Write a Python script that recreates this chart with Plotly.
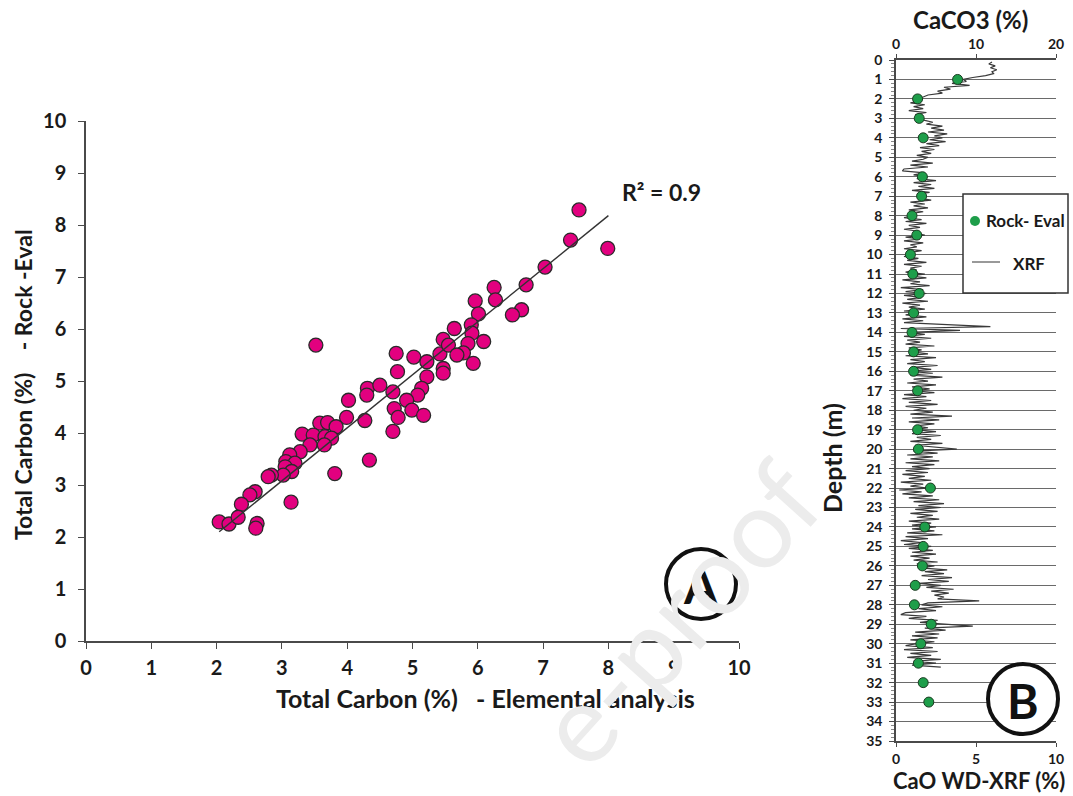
import plotly.graph_objects as go

W, H = 1073, 796

# ---------------- Panel A data : Total carbon, elemental analysis vs Rock-Eval ----------------
tc_elemental = [3.52, 4.75, 5.02, 5.22, 5.42, 4.77, 5.22, 4.31, 4.50, 4.30, 4.70, 5.14, 5.08, 4.91,
                4.02, 4.72, 4.99, 4.78, 5.17, 3.99, 4.27, 4.70, 3.58, 3.70, 3.83, 3.31, 3.48, 3.66,
                3.76, 3.43, 3.65, 3.28, 3.12, 3.06, 3.20, 3.05, 3.15, 3.02, 2.84, 2.79, 4.34, 3.81,
                2.59, 2.51, 2.38, 3.14, 2.62, 2.60, 2.04, 2.19, 2.33,
                7.55, 7.99, 7.42, 7.03, 6.74, 6.25, 6.27, 5.96, 6.01, 6.67, 6.53, 5.64, 5.90, 5.91,
                6.09, 5.85, 5.47, 5.55, 5.78, 5.68, 5.93, 5.47, 5.47]
tc_rockeval = [5.69, 5.53, 5.46, 5.37, 5.52, 5.18, 5.08, 4.86, 4.92, 4.73, 4.79, 4.86, 4.73, 4.63,
               4.63, 4.47, 4.44, 4.30, 4.34, 4.30, 4.24, 4.03, 4.19, 4.20, 4.12, 3.98, 3.96, 3.93,
               3.90, 3.77, 3.77, 3.64, 3.58, 3.45, 3.42, 3.35, 3.26, 3.19, 3.19, 3.16, 3.48, 3.22,
               2.87, 2.81, 2.63, 2.67, 2.26, 2.17, 2.29, 2.25, 2.38,
               8.29, 7.55, 7.71, 7.19, 6.85, 6.80, 6.56, 6.54, 6.29, 6.37, 6.27, 6.01, 6.08, 5.92,
               5.76, 5.72, 5.80, 5.69, 5.54, 5.50, 5.34, 5.24, 5.15]
# trend line
trend_slope = 1.02
trend_intercept = 0.02
trend_x_range = [2.04, 8.0]
r2_label = "R² = 0.9"
a_ticks = list(range(0, 11))

# ---------------- Panel B data : depth profile ----------------
re_depth = [1, 2, 3, 4, 6, 7, 8, 9, 10, 11, 12, 13, 14, 15, 16, 17, 19, 20, 22, 24, 25, 26,
            27, 28, 29, 30, 31, 32, 33]
re_caco3 = [7.7, 2.7, 2.9, 3.4, 3.3, 3.2, 2.0, 2.6, 1.8, 2.1, 2.9, 2.2, 2.0, 2.2, 2.2, 2.7,
            2.7, 2.8, 4.3, 3.6, 3.4, 3.3, 2.4, 2.3, 4.4, 3.1, 2.8, 3.4, 4.1]

# XRF CaO (%) every 0.1 m starting at 0.1 m (one row per metre)
xrf_cao_rows = [
    [6.0, 5.8, 6.2, 5.9, 6.3, 6.0, 6.1, 5.6, 4.8, 4.2],
    [4.4, 3.5, 4.6, 3.0, 3.4, 2.6, 2.9, 2.0, 1.7, 1.3],
    [1.6, 0.9, 1.8, 1.1, 1.7, 0.8, 1.9, 1.2, 1.5, 1.4],
    [1.8, 2.3, 1.9, 2.9, 2.2, 3.0, 2.0, 3.2, 2.4, 2.9],
    [2.1, 3.1, 1.9, 2.7, 1.5, 2.4, 1.6, 2.2, 1.3, 2.0],
    [1.7, 1.0, 2.3, 0.9, 2.0, 0.5, 0.4, 1.8, 1.1, 2.0],
    [1.3, 2.5, 1.1, 2.2, 1.4, 2.4, 1.0, 2.1, 1.3, 1.9],
    [1.4, 2.2, 0.9, 1.8, 1.1, 2.0, 0.8, 1.7, 0.9, 1.3],
    [0.5, 1.6, 0.6, 1.9, 0.8, 1.5, 0.5, 1.4, 1.1, 1.8],
    [0.6, 1.5, 0.5, 1.7, 0.9, 1.3, 0.5, 1.6, 0.8, 1.2],
    [0.5, 1.4, 0.7, 1.9, 0.5, 1.6, 0.9, 1.3, 0.6, 1.8],
    [0.8, 1.9, 0.4, 1.5, 0.9, 2.1, 0.3, 1.7, 0.6, 1.9],
    [0.5, 1.6, 0.7, 2.0, 0.4, 1.5, 0.8, 1.8, 0.5, 1.4],
    [0.6, 1.9, 0.4, 1.7, 0.5, 2.8, 5.9, 0.3, 4.0, 0.8],
    [1.8, 0.5, 2.2, 0.7, 1.5, 0.6, 2.4, 0.8, 1.6, 1.0],
    [2.0, 0.6, 2.5, 0.9, 1.8, 0.7, 2.6, 1.0, 2.2, 0.8],
    [2.3, 0.9, 2.9, 1.1, 2.0, 0.7, 2.5, 1.0, 2.1, 1.2],
    [2.4, 0.5, 1.9, 0.4, 2.2, 0.8, 2.6, 0.6, 1.9, 1.1],
    [2.3, 0.9, 3.5, 1.0, 2.7, 0.8, 2.4, 1.2, 2.0, 1.1],
    [2.5, 1.0, 2.8, 1.3, 2.2, 0.9, 2.9, 1.2, 2.4, 3.8],
    [1.1, 2.6, 0.7, 2.3, 0.9, 2.7, 0.6, 2.4, 1.0, 2.1],
    [0.6, 2.0, 0.4, 1.8, 0.8, 2.2, 0.3, 1.7, 0.9, 2.0],
    [0.2, 1.6, 0.4, 2.3, 0.8, 2.7, 1.1, 3.0, 1.4, 2.8],
    [1.2, 2.6, 0.9, 2.3, 1.3, 2.7, 0.8, 2.2, 1.0, 2.5],
    [1.0, 2.4, 0.7, 2.9, 0.6, 2.0, 0.3, 1.6, 0.5, 2.2],
    [0.8, 2.3, 1.0, 2.5, 0.9, 2.1, 1.1, 2.6, 1.3, 2.4],
    [1.5, 3.2, 1.8, 3.0, 1.6, 3.5, 2.0, 3.3, 1.4, 2.8],
    [1.9, 3.6, 2.2, 3.3, 2.4, 3.0, 2.6, 5.2, 2.0, 1.6],
    [2.9, 1.4, 2.5, 0.6, 0.3, 1.9, 0.8, 2.6, 1.5, 3.0],
    [4.8, 1.8, 3.1, 1.2, 2.7, 1.0, 2.6, 0.9, 2.4, 1.3],
    [0.6, 2.3, 0.5, 2.6, 0.9, 2.2, 0.7, 2.8, 1.1, 2.5],
    [1.0, 2.8],
]
xrf_step_m = 0.1
xrf_cao = [v for row in xrf_cao_rows for v in row]
xrf_depth = [round(xrf_step_m * (i + 1), 2) for i in range(len(xrf_cao))]

# ---------------- helpers ----------------
def px(x):
    return x / W

def py(y):
    return 1 - y / H

FONT = "Lato"
TXT = "#1a1a1a"
AX = "#4a4a4a"

def bold(size, color=TXT):
    return dict(family=FONT, size=size, color=color, weight="bold")

fig = go.Figure()

# Panel A scatter
fig.add_trace(go.Scatter(
    x=tc_elemental, y=tc_rockeval, mode="markers", xaxis="x", yaxis="y",
    marker=dict(size=14, color="#e2007f", line=dict(color="#2a2a2a", width=1.3)),
    showlegend=False, hoverinfo="skip"))

# linear trend line
fig.add_trace(go.Scatter(
    x=trend_x_range, y=[trend_slope * v + trend_intercept for v in trend_x_range],
    mode="lines", xaxis="x", yaxis="y",
    line=dict(color="#333333", width=1.4), showlegend=False, hoverinfo="skip"))

# Panel B XRF trace
fig.add_trace(go.Scatter(
    x=xrf_cao, y=xrf_depth, mode="lines", xaxis="x2", yaxis="y2",
    line=dict(color="#3a3a3a", width=1.2), showlegend=False, hoverinfo="skip"))

# Panel B Rock-Eval points (CaCO3 scale)
fig.add_trace(go.Scatter(
    x=re_caco3, y=re_depth, mode="markers", xaxis="x3", yaxis="y2",
    marker=dict(size=10, color="#1e9e4a", line=dict(color="#1c3b22", width=1)),
    showlegend=False, hoverinfo="skip"))

common = dict(showline=True, linecolor=AX, linewidth=1.5, ticks="outside", tickcolor=AX,
              zeroline=False, showgrid=False, automargin=False)

fig.update_layout(
    width=W, height=H, margin=dict(l=0, r=0, t=0, b=0, autoexpand=False),
    paper_bgcolor="white", plot_bgcolor="white", showlegend=False,
    xaxis=dict(domain=[px(86), px(739)], anchor="y", range=[0, 10], tickvals=a_ticks,
               ticklen=6, tickfont=bold(20), ticklabelstandoff=2, **common),
    yaxis=dict(domain=[py(641), py(121)], anchor="x", range=[0, 10], tickvals=a_ticks,
               ticklen=6, tickfont=bold(20), ticklabelstandoff=8, **common),
    xaxis2=dict(domain=[px(896), px(1056)], anchor="y2", range=[0, 10], tickvals=[0, 5, 10],
                ticklen=4, tickfont=bold(14), side="bottom", **common),
    xaxis3=dict(overlaying="x2", anchor="y2", side="top", range=[0, 20], tickvals=[0, 10, 20],
                ticklen=4, tickfont=bold(14), **common),
    yaxis2=dict(domain=[py(741), py(60)], anchor="x2", range=[35, 0], tickvals=list(range(0, 36)),
                ticklen=5, tickfont=bold(14), ticklabelstandoff=4, automargin=False,
                showline=True, linecolor=AX, linewidth=1.5, ticks="outside", tickcolor=AX,
                zeroline=False, showgrid=True, gridcolor="#6a6a6a", gridwidth=1.3,
                minor=dict(dtick=0.2, ticks="outside", ticklen=3, tickcolor="#888", showgrid=False)),
)

ann = []
ann.append(dict(text="Total Carbon (%)\u00a0\u00a0\u00a0- Elemental analysis", x=px(486), y=py(698),
                font=bold(25)))
ann.append(dict(text="Total Carbon (%)\u00a0\u00a0\u00a0\u00a0- Rock -Eval", x=px(23), y=py(385),
                textangle=-90, font=bold(23)))
ann.append(dict(text=r2_label, x=px(661), y=py(192), font=bold(23)))
ann.append(dict(text="A", x=px(701), y=py(585), font=bold(48, "#111")))
ann.append(dict(text="B", x=px(1023), y=py(700), font=bold(48, "#111")))
ann.append(dict(text="CaCO3 (%)", x=px(970), y=py(19), font=bold(24)))
ann.append(dict(text="CaO WD-XRF (%)", x=px(979), y=py(780), font=bold(22)))
ann.append(dict(text="Depth (m)", x=px(832), y=py(458), textangle=-90, font=bold(25)))
ann.append(dict(text="Rock- Eval", x=px(984), y=py(221), xanchor="left", font=bold(17)))
ann.append(dict(text="XRF", x=px(1011), y=py(263), xanchor="left", font=bold(17)))
ann.append(dict(text="e-proof", x=px(676), y=py(612), textangle=-48,
                font=dict(family=FONT, size=110, color="#ececec")))
for a in ann:
    a.setdefault("xref", "paper")
    a.setdefault("yref", "paper")
    a.setdefault("showarrow", False)
    a.setdefault("xanchor", "center")
    a.setdefault("yanchor", "middle")
fig.update_layout(annotations=ann)

shapes = []
# circles for panel labels
for cx, cy in [(701, 584), (1023, 699)]:
    shapes.append(dict(type="circle", xref="paper", yref="paper",
                       x0=px(cx - 35), x1=px(cx + 35), y0=py(cy + 35), y1=py(cy - 35),
                       line=dict(color="#111", width=4), fillcolor="white", layer="above"))
# legend box panel B
shapes.append(dict(type="rect", xref="paper", yref="paper", x0=px(963), x1=px(1068),
                   y0=py(293), y1=py(194), line=dict(color="#333", width=1.5),
                   fillcolor="white", layer="above"))
shapes.append(dict(type="line", xref="paper", yref="paper", x0=px(972), x1=px(1000),
                   y0=py(262), y1=py(262), line=dict(color="#777", width=1.5), layer="above"))
shapes.append(dict(type="circle", xref="paper", yref="paper", x0=px(970), x1=px(980),
                   y0=py(226), y1=py(216), line=dict(color="#1e9e4a", width=0),
                   fillcolor="#1e9e4a", layer="above"))
fig.update_layout(shapes=shapes)

fig.write_html("out.html")
